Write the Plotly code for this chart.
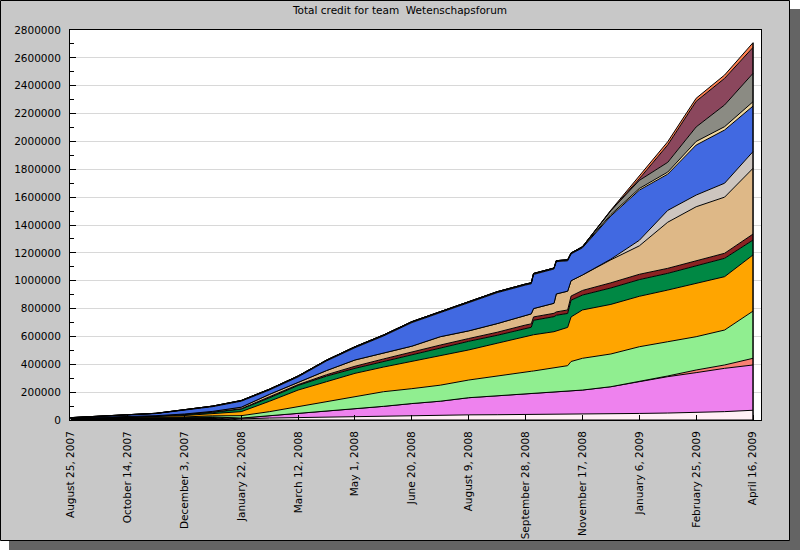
import plotly.graph_objects as go

dates = ["2007-08-25", "2007-09-19", "2007-10-14", "2007-11-08", "2007-12-03", "2007-12-28",
         "2008-01-22", "2008-02-16", "2008-03-12", "2008-04-06", "2008-05-01", "2008-05-26",
         "2008-06-20", "2008-07-15", "2008-08-09", "2008-09-03", "2008-09-28", "2008-10-03",
         "2008-10-05", "2008-10-23", "2008-10-25", "2008-11-04", "2008-11-07", "2008-11-17",
         "2008-12-12", "2009-01-06", "2009-01-31", "2009-02-25", "2009-03-22", "2009-04-16"]

m00 = [14000, 16000, 18000, 18000, 18000, 16000, 0, 0, 0, 0, 0, 0, 0, 0, 0, 0, 0, 0, 0, 0, 0, 0, 0, 0, 0, 0, 0, 0, 0, 0]
m01 = [0, 0, 0, 0, 0, 2000, 8000, 14000, 18000, 22000, 26000, 30000, 33000, 35000, 37000, 38000, 39000, 39000, 39000, 40000, 40000, 40000, 41000, 42000, 44000, 47000, 50000, 54000, 60000, 70000]
m02 = [0, 0, 0, 0, 1000, 4000, 6000, 16000, 27000, 40000, 54000, 68000, 85000, 100000, 123000, 137000, 149000, 151000, 153000, 165000, 166000, 170000, 171000, 173000, 195000, 228000, 261000, 286000, 311000, 325000]
m03 = [0, 0, 0, 0, 0, 0, 0, 0, 0, 0, 0, 0, 0, 0, 0, 0, 0, 0, 0, 0, 0, 0, 0, 0, 0, 0, 5000, 19000, 24000, 48000]
m04 = [0, 0, 0, 0, 3000, 8000, 17000, 30000, 51000, 69000, 87000, 105000, 107000, 115000, 127000, 143000, 159000, 160000, 160000, 173000, 174000, 180000, 208000, 228000, 235000, 251000, 246000, 239000, 251000, 339000]
m05 = [0, 1000, 4000, 8000, 10000, 15000, 29000, 75000, 119000, 144000, 168000, 177000, 195000, 209000, 216000, 233000, 251000, 256000, 260000, 256000, 260000, 275000, 320000, 347000, 356000, 362000, 371000, 383000, 383000, 403000]
m06 = [0, 0, 1000, 2000, 6000, 10000, 18000, 25000, 33000, 40000, 36000, 40000, 50000, 56000, 62000, 57000, 60000, 60000, 104000, 108000, 112000, 100000, 120000, 107000, 118000, 120000, 120000, 124000, 132000, 107000]
m07 = [0, 0, 0, 0, 1000, 1000, 3000, 6000, 6000, 10000, 15000, 18000, 20000, 23000, 20000, 22000, 24000, 24000, 24000, 24000, 24000, 25000, 30000, 33000, 37000, 38000, 36000, 39000, 36000, 43000]
m08 = [0, 1000, 2000, 3000, 4000, 6000, 11000, 19000, 16000, 30000, 45000, 44000, 40000, 60000, 55000, 62000, 72000, 72000, 60000, 72000, 129000, 135000, 110000, 111000, 165000, 204000, 331000, 387000, 403000, 472000]
m09 = [0, 0, 0, 0, 0, 0, 0, 0, 0, 0, 0, 0, 0, 0, 0, 0, 0, 0, 0, 0, 0, 0, 0, 0, 5000, 40000, 85000, 84000, 100000, 120000]
m10 = [2000, 6000, 11000, 15000, 27000, 34000, 43000, 31000, 39000, 69000, 88000, 121000, 169000, 172000, 202000, 222000, 215000, 216000, 245000, 246000, 232000, 218000, 192000, 195000, 310000, 360000, 260000, 359000, 382000, 327000]
m11 = [1000, 1000, 2000, 2000, 3000, 4000, 5000, 6000, 7000, 6000, 7000, 7000, 7000, 7000, 7000, 7000, 7000, 7000, 7000, 7000, 7000, 7000, 7000, 6000, 10000, 12000, 15000, 26000, 24000, 31000]
m12 = [0, 0, 0, 0, 0, 0, 0, 0, 0, 0, 0, 0, 0, 0, 0, 0, 0, 0, 0, 0, 0, 0, 0, 2000, 28000, 58000, 70000, 104000, 156000, 204000]
m13 = [0, 0, 0, 0, 0, 0, 0, 0, 0, 0, 0, 0, 0, 0, 0, 0, 0, 0, 0, 0, 0, 0, 0, 0, 0, 12000, 125000, 184000, 191000, 186000]
m14 = [0, 0, 0, 0, 0, 0, 0, 0, 0, 0, 0, 0, 0, 0, 0, 0, 0, 0, 0, 0, 0, 0, 0, 0, 4000, 18000, 23000, 22000, 24000, 34000]

series = [m00, m01, m02, m03, m04, m05, m06, m07, m08, m09, m10, m11, m12, m13, m14]
colors = ["#000000", "#fff0f5", "#ee82ee", "#fa8072", "#90ee90", "#ffa500", "#008844",
          "#8b2323", "#deb887", "#cdc5bf", "#4169e1", "#f0d8a0", "#8b8b83", "#8b475d", "#ff7f50"]

tick_dates = ["2007-08-25", "2007-10-14", "2007-12-03", "2008-01-22", "2008-03-12", "2008-05-01",
              "2008-06-20", "2008-08-09", "2008-09-28", "2008-11-17", "2009-01-06", "2009-02-25",
              "2009-04-16"]
tick_labels = ["August 25, 2007", "October 14, 2007", "December 3, 2007", "January 22, 2008",
               "March 12, 2008", "May 1, 2008", "June 20, 2008", "August 9, 2008",
               "September 28, 2008", "November 17, 2008", "January 6, 2009", "February 25, 2009",
               "April 16, 2009"]
y_ticks = [0, 200000, 400000, 600000, 800000, 1000000, 1200000, 1400000, 1600000,
           1800000, 2000000, 2200000, 2400000, 2600000, 2800000]

fig = go.Figure()
for i, (vals, col) in enumerate(zip(series, colors)):
    fig.add_trace(go.Scatter(
        x=dates, y=vals, mode="lines", stackgroup="one",
        line=dict(color="black", width=1), fillcolor=col,
        name=f"member {i}", showlegend=False, hoverinfo="skip"))

# right-hand closing edge of the stacked areas (last date, from 0 to the final total)
final_total = sum(s[-1] for s in series)
fig.add_trace(go.Scatter(x=[dates[-1], dates[-1]], y=[0, final_total], mode="lines",
                         line=dict(color="black", width=1.5), showlegend=False, hoverinfo="skip"))

L, R, T, B = 70, 39, 30, 130
W, H = 800 - L - R, 550 - T - B

def px(x):
    return (x - L) / W

def py(y):
    return (550 - B - y) / H

shapes = [
    dict(type="rect", xref="paper", yref="paper", x0=px(9), x1=px(800), y0=py(550), y1=py(9),
         fillcolor="#646464", line=dict(width=0), layer="below"),
    dict(type="rect", xref="paper", yref="paper", x0=px(0.5), x1=px(789.5), y0=py(540.5), y1=py(0.5),
         fillcolor="#c8c8c8", line=dict(color="black", width=1), layer="below"),
    dict(type="rect", xref="paper", yref="paper", x0=0, x1=1, y0=0, y1=1,
         fillcolor="white", line=dict(width=0), layer="below"),
]

fig.update_layout(
    width=800, height=550,
    margin=dict(l=L, r=R, t=T, b=B, pad=0, autoexpand=False),
    paper_bgcolor="white", plot_bgcolor="white",
    font=dict(family="DejaVu Sans", size=10.5, color="black"),
    title=dict(text="Total credit for team  Wetenschapsforum", xref="container", x=0.5,
               y=1 - 10 / 550, yanchor="middle", xanchor="center",
               font=dict(family="DejaVu Sans", size=10.5, color="black")),
    shapes=shapes,
    showlegend=False,
)
fig.update_xaxes(
    type="date", range=["2007-08-24 10:00", "2009-04-23"],
    tickmode="array", tickvals=tick_dates, ticktext=tick_labels, tickangle=-90,
    ticks="inside", ticklen=5, tickcolor="black", ticklabelstandoff=6,
    showgrid=False, showline=True, linecolor="black", linewidth=1, mirror=True,
    zeroline=False,
)
fig.update_yaxes(
    range=[0, 2800000], tickmode="array", tickvals=y_ticks,
    ticktext=[str(v) for v in y_ticks],
    ticks="inside", ticklen=6, tickcolor="black", ticklabelstandoff=6,
    minor=dict(dtick=100000, tick0=0, ticks="inside", ticklen=4, tickcolor="black", showgrid=False),
    showgrid=True, gridcolor="#d8d8d8", gridwidth=1,
    showline=True, linecolor="black", linewidth=1, mirror=True, zeroline=False,
)

fig.write_html("out.html", config={"displayModeBar": False},
               post_script="document.body.style.margin='0px';")
